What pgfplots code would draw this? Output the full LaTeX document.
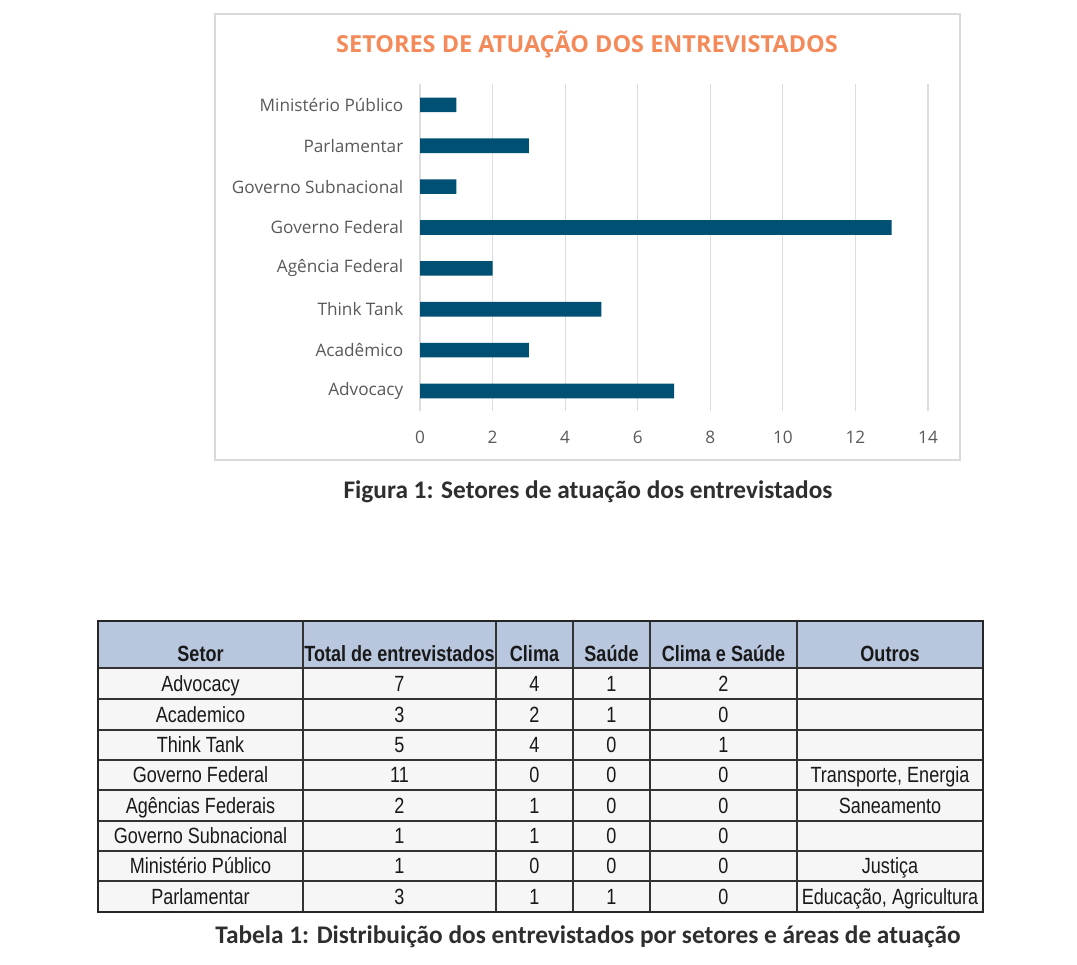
\documentclass[border=0pt]{standalone}
\usepackage{pgfplots}
\pgfplotsset{compat=1.18}
\usepackage{fontspec}
\setmainfont{Open Sans}
\newfontfamily\chartfont{Open Sans}
\newfontfamily\tabfont[FakeStretch=0.82]{Liberation Sans}
\newfontfamily\capfont{Carlito}
\definecolor{barblue}{RGB}{0,80,115}
\definecolor{titleor}{RGB}{244,138,90}
\definecolor{lbl}{RGB}{89,89,89}
\definecolor{frame}{RGB}{217,217,217}
\definecolor{hdr}{RGB}{184,198,222}
\definecolor{rowf}{RGB}{246,246,246}
\begin{document}
\begin{tikzpicture}
\begin{scope}[x=0.75pt,y=-0.75pt]
\path (0,0) rectangle (1077,964);
\draw[frame,line width=1.5pt] (215,14) rectangle (960,460);
\node[titleor,font=\chartfont\bfseries\fontsize{17.6}{19}\selectfont] at (587,45) {SETORES DE ATUAÇÃO DOS ENTREVISTADOS};
\node[font=\capfont\bfseries\fontsize{19}{22}\selectfont,text=black!82] at (588,492) {Figura 1: Setores de atuação dos entrevistados};
\node[font=\capfont\bfseries\fontsize{19}{22}\selectfont,text=black!82] at (588,937) {Tabela 1: Distribuição dos entrevistados por setores e áreas de atuação};
% table
\fill[hdr] (98,621) rectangle (983,668);
\fill[rowf] (98,668) rectangle (983,912);
\foreach \yy in {668,699,730,760,790,821,851,881}
  \draw[black!80,line width=1.1pt] (98,\yy) -- (983,\yy);
\foreach \xx in {303,496,573,650,797}
  \draw[black!80,line width=1.1pt] (\xx,621) -- (\xx,912);
\draw[black!85,line width=1.4pt] (98,621) rectangle (983,912);
\begin{scope}[every node/.style={font=\tabfont\fontsize{16.5}{18}\selectfont,text=black!90,inner sep=0pt,anchor=base}]
\node[font=\tabfont\bfseries\fontsize{16.5}{18}\selectfont] at (200.5,661) {Setor};
\node[font=\tabfont\bfseries\fontsize{16.5}{18}\selectfont] at (399.5,661) {Total de entrevistados};
\node[font=\tabfont\bfseries\fontsize{16.5}{18}\selectfont] at (534.5,661) {Clima};
\node[font=\tabfont\bfseries\fontsize{16.5}{18}\selectfont] at (611.5,661) {Saúde};
\node[font=\tabfont\bfseries\fontsize{16.5}{18}\selectfont] at (723.5,661) {Clima e Saúde};
\node[font=\tabfont\bfseries\fontsize{16.5}{18}\selectfont] at (890,661) {Outros};
\foreach \yy/\a/\b/\c/\d/\e/\f in {
  691/Advocacy/7/4/1/2/,
  722/Academico/3/2/1/0/,
  752/Think Tank/5/4/0/1/,
  782/Governo Federal/11/0/0/0/{Transporte, Energia},
  813/Agências Federais/2/1/0/0/Saneamento,
  843/Governo Subnacional/1/1/0/0/,
  873/Ministério Público/1/0/0/0/Justiça,
  904/Parlamentar/3/1/1/0/{Educação, Agricultura}}{
  \node at (200.5,\yy) {\a};
  \node at (399.5,\yy) {\b};
  \node at (534.5,\yy) {\c};
  \node at (611.5,\yy) {\d};
  \node at (723.5,\yy) {\e};
  \node at (890,\yy) {\f};
}
\end{scope}
\end{scope}
\begin{axis}[
  at={(315pt,-308.55pt)}, anchor=south west,
  scale only axis, width=381pt, height=245.25pt,
  xbar, bar width=11pt,
  xmin=0, xmax=14, ymin=-0.5, ymax=7.5,
  xtick={0,2,...,14}, ytick={0,...,7},
  yticklabels={Advocacy,Acadêmico,Think Tank,Agência Federal,Governo Federal,Governo Subnacional,Parlamentar,Ministério Público},
  axis line style={draw=none},
  major tick length=0pt,
  xmajorgrids, grid style={frame!90,line width=0.9pt},
  /pgf/number format/assume math mode=true,
  tick label style={font=\chartfont\fontsize{12.9}{15}\selectfont,text=lbl},
  xticklabel style={yshift=-11.5pt},
  yticklabel style={xshift=-9pt},
]
\addplot[fill=barblue,draw=none] coordinates {(7,0) (3,1) (5,2) (2,3) (13,4) (1,5) (3,6) (1,7)};
\end{axis}
\end{tikzpicture}
\end{document}
